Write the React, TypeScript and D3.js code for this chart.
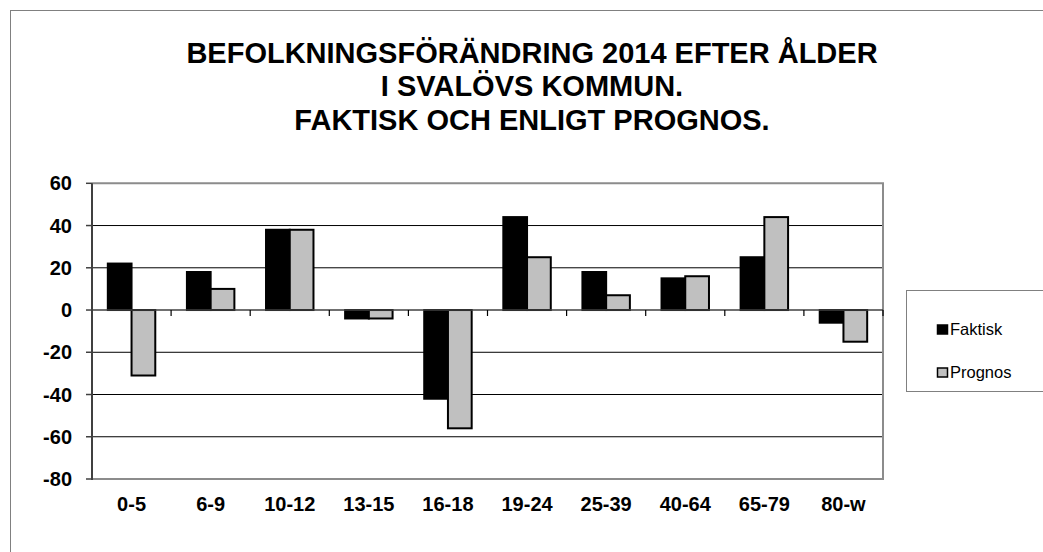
import React from 'react'
import * as d3 from 'd3'

const ageGroups = ['0-5', '6-9', '10-12', '13-15', '16-18', '19-24', '25-39', '40-64', '65-79', '80-w']
const faktisk = [22, 18, 38, -4, -42, 44, 18, 15, 25, -6]
const prognos = [-31, 10, 38, -4, -56, 25, 7, 16, 44, -15]
const seriesNames = ['Faktisk', 'Prognos']
const yTicks = [60, 40, 20, 0, -20, -40, -60, -80]
const titleLines = ['BEFOLKNINGSFÖRÄNDRING 2014 EFTER ÅLDER', 'I SVALÖVS KOMMUN.', 'FAKTISK OCH ENLIGT PROGNOS.']

const fills = ['#000000', '#c0c0c0']
const font = 'Arial, "Liberation Sans", sans-serif'

export default function App() {
	const width = 1043
	const height = 552
	const plot = {left: 92, right: 883, top: 183.3, bottom: 479}

	const y = d3.scaleLinear().domain([-80, 60]).range([plot.bottom, plot.top])
	const x0 = d3.scaleBand<string>()
		.domain(ageGroups)
		.range([plot.left, plot.right])
		.paddingInner(0.4)
		.paddingOuter(0.2)
	const x1 = d3.scaleBand<string>().domain(seriesNames).range([0, x0.bandwidth()])
	const step = x0.step()
	const rows = ageGroups.map((g, i) => ({g, vals: [faktisk[i], prognos[i]]}))

	return (
		<svg width={width} height={height} style={{position: 'absolute', left: 0, top: 0}} fontFamily={font}>
			<rect x={10.5} y={10.5} width={1050} height={560} fill="#fff" stroke="#808080" strokeWidth={1}/>

			<g fontWeight="bold" fontSize={29} textAnchor="middle" fill="#000">
				{titleLines.map((t, i) => (
					<text key={t} x={532} y={62.5 + i * 33.8}>{t}</text>
				))}
			</g>

			{/* gridlines */}
			{yTicks.filter(t => t !== 60 && t !== -80 && t !== 0).map(t => (
				<line key={`grid-${t}`} x1={plot.left} x2={plot.right} y1={y(t)} y2={y(t)} stroke="#000" strokeWidth={1}/>
			))}
			{/* plot frame */}
			<path d={`M${plot.left},${plot.top}H${plot.right}V${plot.bottom}H${plot.left}`} fill="none" stroke="#8c8c8c" strokeWidth={2}/>

			{/* bars */}
			{rows.map(r => (
				<g key={r.g} transform={`translate(${x0(r.g)},0)`}>
					{r.vals.map((v, j) => (
						<rect
							key={j}
							x={x1(seriesNames[j])}
							y={Math.min(y(v), y(0))}
							width={x1.bandwidth()}
							height={Math.abs(y(v) - y(0))}
							fill={fills[j]}
							stroke="#000"
							strokeWidth={2}
						/>
					))}
				</g>
			))}

			{/* zero axis and ticks */}
			<line x1={plot.left} x2={plot.right} y1={y(0)} y2={y(0)} stroke="#404040" strokeWidth={1.5}/>
			{d3.range(ageGroups.length + 1).map(i => (
				<line key={`xt-${i}`} x1={plot.left + i * step} x2={plot.left + i * step} y1={y(0)} y2={y(0) + 6} stroke="#000" strokeWidth={1.2}/>
			))}
			<line x1={plot.left} x2={plot.left} y1={plot.top} y2={plot.bottom + 1} stroke="#404040" strokeWidth={2}/>
			{yTicks.map(t => (
				<g key={`yt-${t}`}>
					<line x1={plot.left - 6} x2={plot.left} y1={y(t)} y2={y(t)} stroke="#404040" strokeWidth={1.5}/>
					<text x={72} y={y(t) + 7} textAnchor="end" fontWeight="bold" fontSize={20}>{t}</text>
				</g>
			))}

			{ageGroups.map(g => (
				<text key={`xl-${g}`} x={(x0(g) ?? 0) + x0.bandwidth() / 2} y={511} textAnchor="middle" fontWeight="bold" fontSize={20}>{g}</text>
			))}

			{/* legend */}
			<rect x={906.5} y={290.5} width={150} height={101} fill="#fff" stroke="#808080" strokeWidth={1}/>
			{seriesNames.map((s, i) => (
				<g key={s} transform={`translate(937,${335 + i * 43})`}>
					<rect x={0.5} y={-10} width={10} height={9} fill={fills[i]} stroke="#000" strokeWidth={1.5}/>
					<text x={13} y={0} fontSize={16.5}>{s}</text>
				</g>
			))}
		</svg>
	)
}
